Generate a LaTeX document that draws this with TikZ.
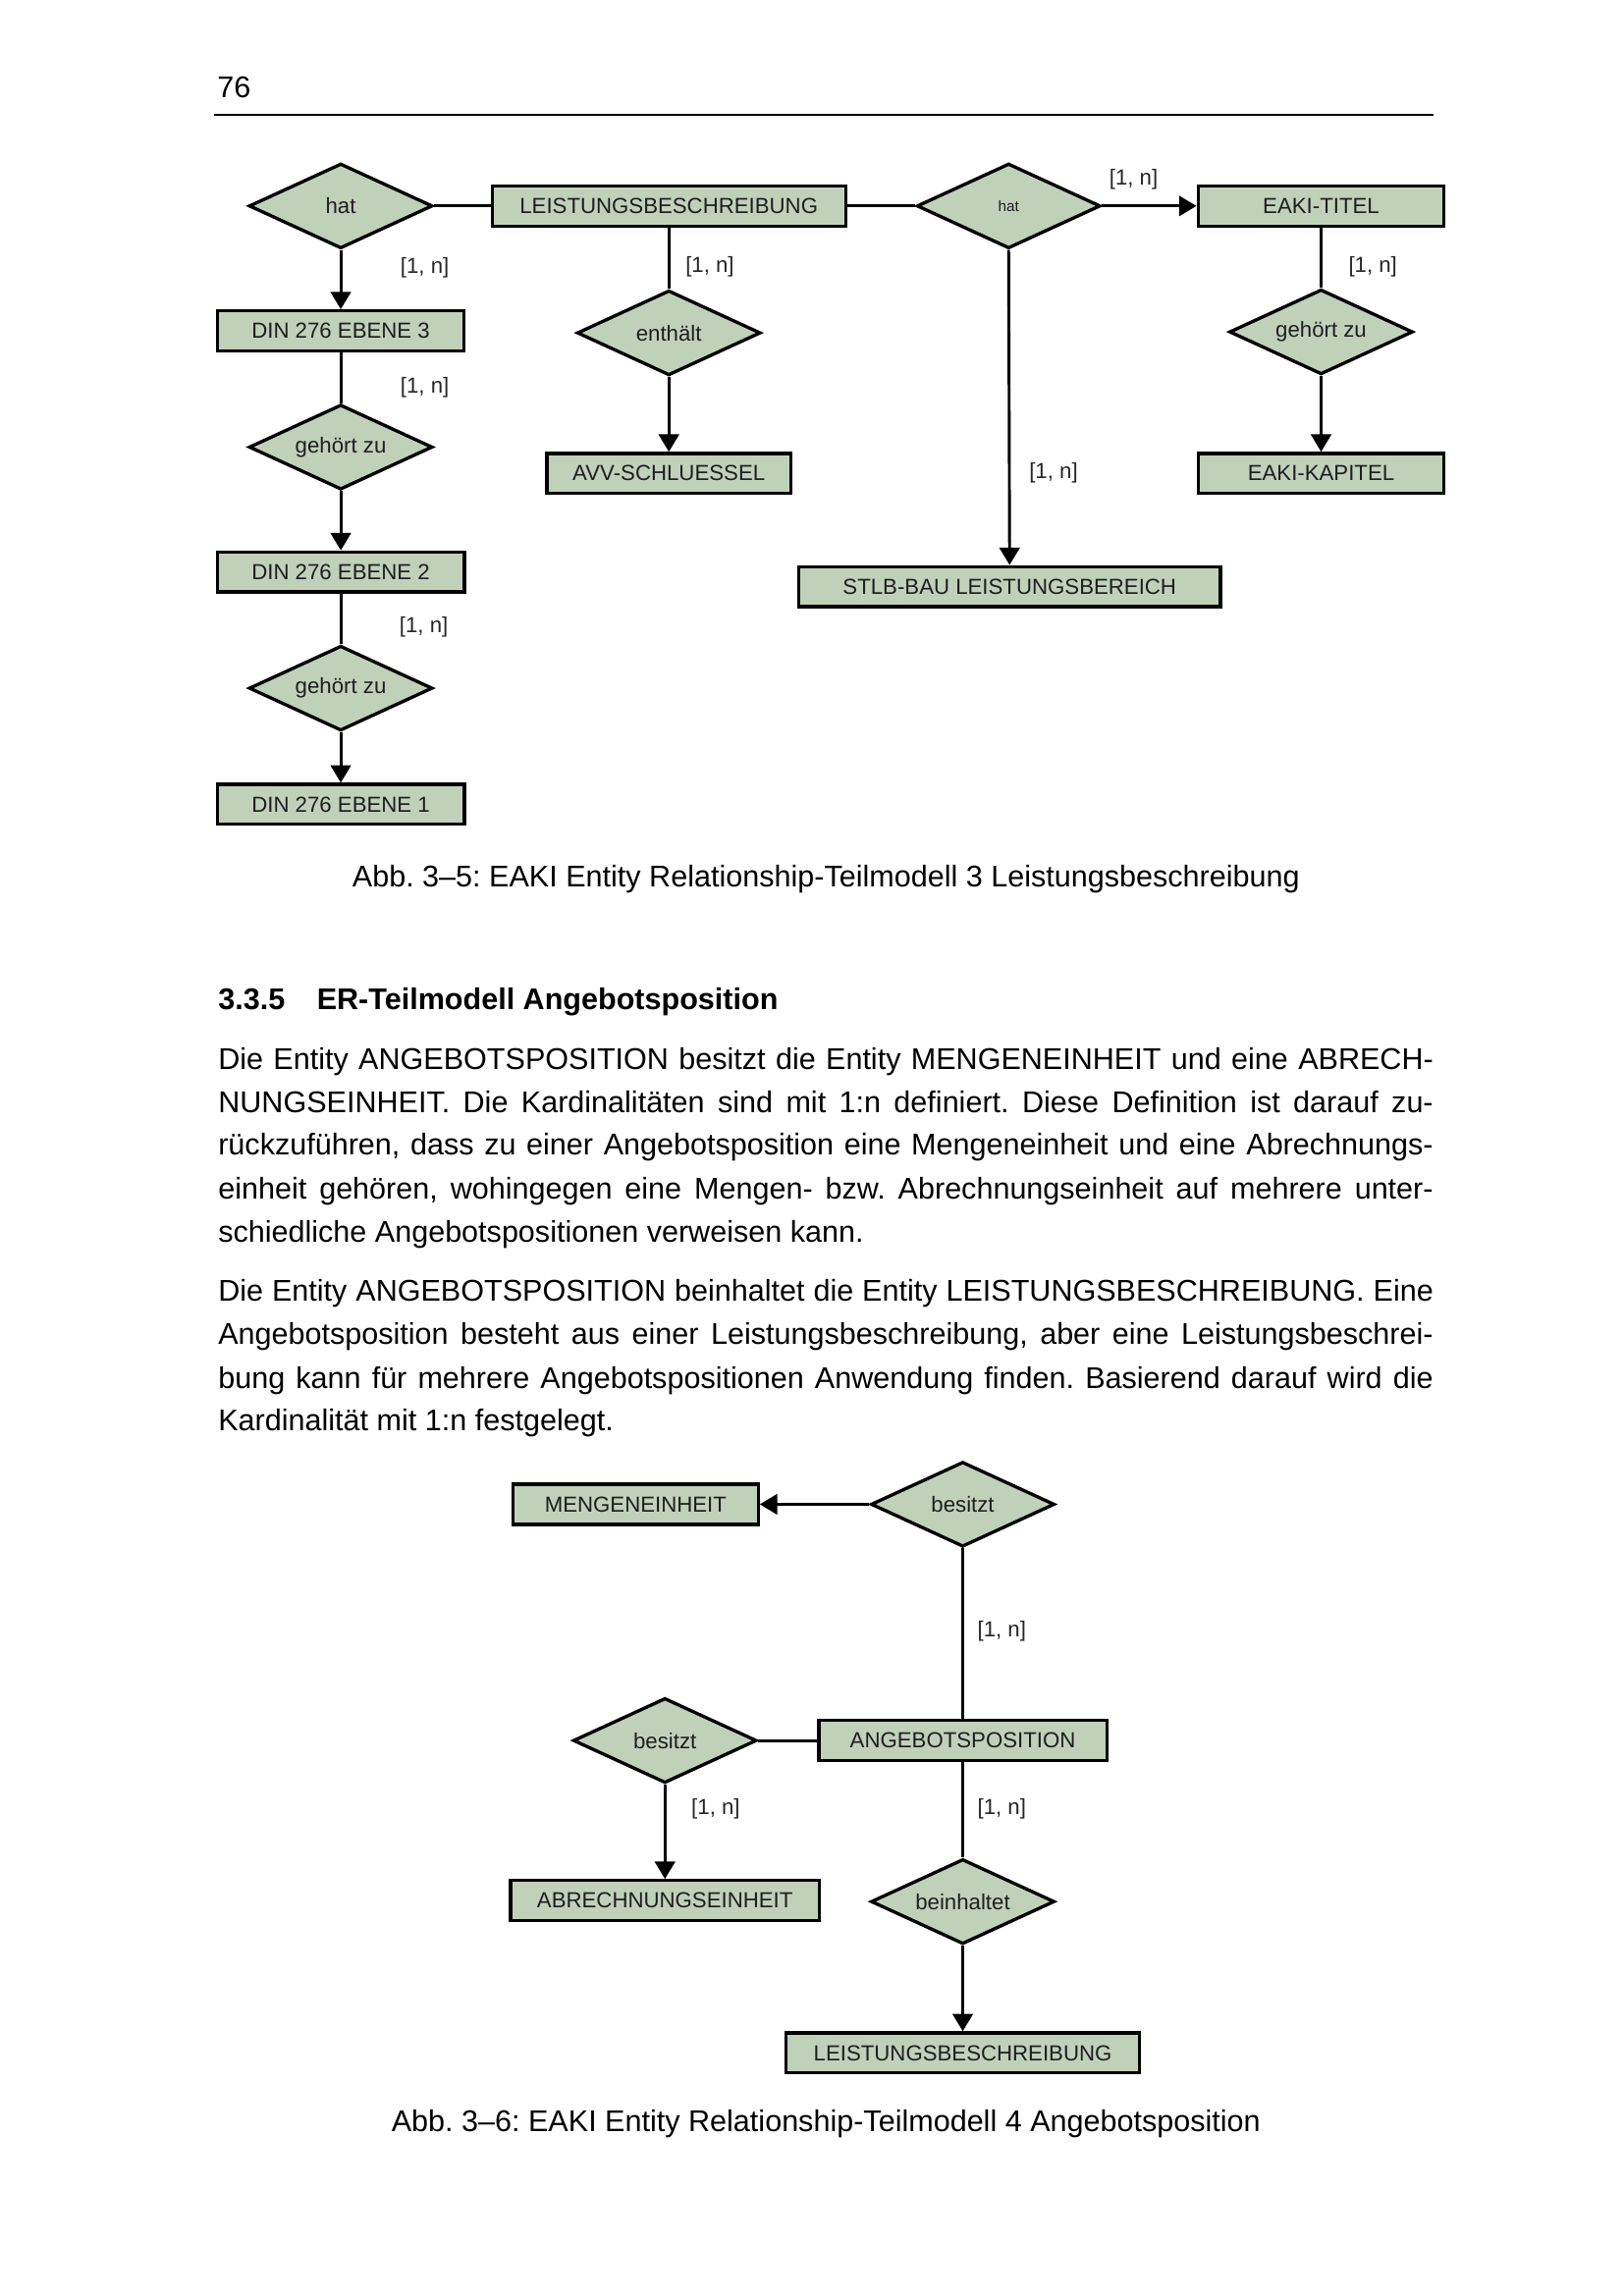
\documentclass[tikz,border=0pt]{standalone}
\usepackage{fontspec}
\setmainfont{Liberation Sans}
\usetikzlibrary{arrows.meta,shapes.geometric}
\definecolor{erfill}{HTML}{C0D1BA}
\definecolor{ertext}{HTML}{1E1E1E}
\definecolor{lbltext}{HTML}{262626}
\frenchspacing
\begin{document}
\begin{tikzpicture}[x=0.358pt,y=-0.358pt,
  ent/.style={draw=black, line width=1.2pt, fill=erfill, minimum width=#1*0.358pt,
    minimum height=41*0.358pt, inner sep=0pt, text=ertext, font=\fontsize{8}{9}\selectfont},
  rel/.style={diamond, aspect=2, draw=black, line width=1.2pt, fill=erfill,
    minimum width=188*0.358pt, minimum height=87*0.358pt, inner sep=0pt, text=ertext,
    font=\fontsize{8}{9}\selectfont},
  lbl/.style={text=lbltext, inner sep=0pt, font=\fontsize{8}{9}\selectfont},
  conn/.style={draw=black, line width=1.05pt},
  arr/.style={conn, -{Triangle[length=6.4pt,width=7.4pt]}},
  body/.style={anchor=mid west, inner sep=0pt, font=\fontsize{11}{13}\selectfont},
  captext/.style={anchor=mid, inner sep=0pt, font=\fontsize{11}{13}\selectfont},
  headtext/.style={anchor=mid west, inner sep=0pt, font=\fontsize{11}{13}\selectfont\bfseries}]
\useasboundingbox[fill=white] (0pt,0pt) rectangle (595.08pt,-842.04pt);

% header
\node[body] (pn) at (222,93) {76};
\coordinate (r1) at (219,118);
\coordinate (r2) at (1468,118);
\draw[line width=0.75pt] (r1) -- (r2);

% ---------- diagram 1 ----------
\node[rel] (hat1) at (349,211) {hat};
\node[ent=362] (lb1) at (685,211) {LEISTUNGSBESCHREIBUNG};
\node[rel] (hat2) at (1033,211) {\fontsize{5.5}{6}\selectfont hat};
\node[ent=252] (titel) at (1353,211) {EAKI-TITEL};
\node[ent=252] (din3) at (349,339) {DIN 276 EBENE 3};
\node[rel] (enth) at (685,341) {enthält};
\node[rel] (gz3) at (1353,340) {gehört zu};
\node[ent=250] (avv) at (685,485) {AVV-SCHLUESSEL};
\node[ent=252] (kap) at (1353,485) {EAKI-KAPITEL};
\node[rel] (gz1) at (349,458) {gehört zu};
\node[ent=432] (stlb) at (1034,601) {STLB-BAU LEISTUNGSBEREICH};
\node[ent=253] (din2) at (349,586) {DIN 276 EBENE 2};
\node[rel] (gz2) at (349,705) {gehört zu};
\node[ent=253] (din1) at (349,824) {DIN 276 EBENE 1};

\draw[conn] (hat1.east) -- (lb1.west);
\draw[conn] (lb1.east) -- (hat2.west);
\draw[arr] (hat2.east) -- (titel.west);
\draw[arr] (hat1.south) -- (din3.north);
\draw[conn] (din3.south) -- (gz1.north);
\draw[arr] (gz1.south) -- (din2.north);
\draw[conn] (din2.south) -- (gz2.north);
\draw[arr] (gz2.south) -- (din1.north);
\draw[conn] (lb1.south) -- (enth.north);
\draw[arr] (enth.south) -- (avv.north);
\draw[arr] (hat2.south) -- (stlb.north);
\draw[conn] (titel.south) -- (gz3.north);
\draw[arr] (gz3.south) -- (kap.north);

\node[lbl] (c1) at (435,274) {[1, n]};
\node[lbl] (c2) at (727,273) {[1, n]};
\node[lbl] (c3) at (1161,184) {[1, n]};
\node[lbl] (c4) at (1406,273) {[1, n]};
\node[lbl] (c5) at (1079,484) {[1, n]};
\node[lbl] (c6) at (435,397) {[1, n]};
\node[lbl] (c7) at (434,642) {[1, n]};

\node[captext] (cap1) at (846,901) {Abb. 3–5: EAKI Entity Relationship-Teilmodell 3 Leistungsbeschreibung};

% ---------- text ----------
\node[headtext] (h1) at (223,1027) {3.3.5};
\node[headtext] (h2) at (324,1027) {ER-Teilmodell Angebotsposition};

\node[body] (p1) at (223,1088) {\makebox[445.5pt][s]{Die Entity ANGEBOTSPOSITION besitzt die Entity MENGENEINHEIT und eine ABRECH-}};
\node[body] (p2) at (223,1132) {\makebox[445.5pt][s]{NUNGSEINHEIT. Die Kardinalitäten sind mit 1:n definiert. Diese Definition ist darauf zu-}};
\node[body] (p3) at (223,1176) {\makebox[445.5pt][s]{rückzuführen, dass zu einer Angebotsposition eine Mengeneinheit und eine Abrechnungs-}};
\node[body] (p4) at (223,1221) {\makebox[445.5pt][s]{einheit gehören, wohingegen eine Mengen- bzw. Abrechnungseinheit auf mehrere unter-}};
\node[body] (p5) at (223,1265) {schiedliche Angebotspositionen verweisen kann.};

\node[body] (q1) at (223,1326) {\makebox[445.5pt][s]{Die Entity ANGEBOTSPOSITION beinhaltet die Entity LEISTUNGSBESCHREIBUNG. Eine}};
\node[body] (q2) at (223,1370) {\makebox[445.5pt][s]{Angebotsposition besteht aus einer Leistungsbeschreibung, aber eine Leistungsbeschrei-}};
\node[body] (q3) at (223,1415) {\makebox[445.5pt][s]{bung kann für mehrere Angebotspositionen Anwendung finden. Basierend darauf wird die}};
\node[body] (q4) at (223,1458) {Kardinalität mit 1:n festgelegt.};

% ---------- diagram 2 ----------
\node[ent=251] (menge) at (651,1541) {MENGENEINHEIT};
\node[rel] (bes1) at (986,1541) {besitzt};
\node[ent=295] (ang) at (986,1783) {ANGEBOTSPOSITION};
\node[rel] (bes2) at (681,1783) {besitzt};
\node[ent=316] (abr) at (681,1947) {ABRECHNUNGSEINHEIT};
\node[rel] (bein) at (986,1948) {beinhaltet};
\node[ent=362] (lb2) at (986,2103) {LEISTUNGSBESCHREIBUNG};

\draw[arr] (bes1.west) -- (menge.east);
\draw[conn] (bes1.south) -- (ang.north);
\draw[conn] (bes2.east) -- (ang.west);
\draw[arr] (bes2.south) -- (abr.north);
\draw[conn] (ang.south) -- (bein.north);
\draw[arr] (bein.south) -- (lb2.north);

\node[lbl] (d1) at (1026,1671) {[1, n]};
\node[lbl] (d2) at (733,1853) {[1, n]};
\node[lbl] (d3) at (1026,1853) {[1, n]};

\node[captext] (cap2) at (846,2176) {Abb. 3–6: EAKI Entity Relationship-Teilmodell 4 Angebotsposition};
\end{tikzpicture}
\end{document}
